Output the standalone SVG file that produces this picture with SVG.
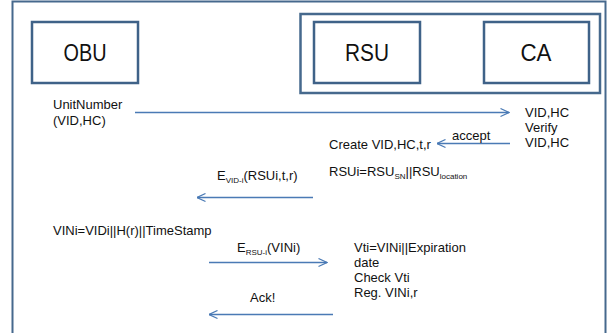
<svg xmlns="http://www.w3.org/2000/svg" width="607" height="333" viewBox="0 0 607 333">
<style>
.frame{fill:none;stroke:#46698d;stroke-width:2}
.box{fill:#fff;stroke:#3f6288;stroke-width:2.5}
.lbl{font-family:"Liberation Sans",Arial,sans-serif;font-size:24px;fill:#111;text-anchor:middle}
.t{font-family:"Liberation Sans",Arial,sans-serif;font-size:13px;fill:#111}
.sub{font-size:8px}
.arr{fill:none;stroke:#4a7ab5;stroke-width:1.3;marker-end:url(#ah)}
</style>
<defs>
<marker id="ah" viewBox="0 0 10 10" refX="9.5" refY="5" markerWidth="10" markerHeight="10" markerUnits="userSpaceOnUse" orient="auto">
<path d="M1,1 L9.5,5 L1,9" fill="none" stroke="#4a7ab5" stroke-width="1.2"/>
</marker>
</defs>
<rect x="0" y="0" width="607" height="333" fill="#fff"/>
<rect class="frame" x="12.5" y="1.5" width="593" height="345"/>
<g id="obu">
<rect class="box" x="32" y="22" width="106" height="61"/>
<text class="lbl" x="85" y="61" textLength="43" lengthAdjust="spacingAndGlyphs">OBU</text>
</g>
<g id="rsu-ca-group">
<rect class="frame" x="300.5" y="14" width="299.5" height="79" style="stroke-width:2.5"/>
</g>
<g id="rsu">
<rect class="box" x="314" y="22" width="106" height="61"/>
<text class="lbl" x="367" y="61" textLength="44" lengthAdjust="spacingAndGlyphs">RSU</text>
</g>
<g id="ca">
<rect class="box" x="484" y="22" width="105" height="61"/>
<text class="lbl" x="536" y="61" textLength="31" lengthAdjust="spacingAndGlyphs">CA</text>
</g>
<g id="connectors">
<line class="arr" x1="135" y1="112.5" x2="509" y2="112.5"/>
<line class="arr" x1="510" y1="143.5" x2="437" y2="143.5"/>
<line class="arr" x1="313" y1="197.5" x2="197" y2="197.5"/>
<line class="arr" x1="209" y1="262.5" x2="327" y2="262.5"/>
<line class="arr" x1="333" y1="314.5" x2="209" y2="314.5"/>
</g>
<g id="labels">
<text class="t" x="53" y="109">UnitNumber</text>
<text class="t" x="53" y="125">(VID,HC)</text>
<text class="t" x="525" y="117">VID,HC</text>
<text class="t" x="525" y="132">Verify</text>
<text class="t" x="525" y="147">VID,HC</text>
<text class="t" x="452" y="140">accept</text>
<text class="t" x="329" y="149">Create VID,HC,t,r</text>
<text class="t" x="329" y="176">RSUi=RSU<tspan class="sub" dy="3">SN</tspan><tspan dy="-3">||RSU</tspan><tspan class="sub" dy="3">location</tspan></text>
<text class="t" x="217" y="180">E<tspan class="sub" dy="3">VID-i</tspan><tspan dy="-3">(RSUi,t,r)</tspan></text>
<text class="t" x="53" y="235">VINi=VIDi||H(r)||TimeStamp</text>
<text class="t" x="237" y="252">E<tspan class="sub" dy="3">RSU-i</tspan><tspan dy="-3">(VINi)</tspan></text>
<text class="t" x="354" y="252">Vti=VINi||Expiration</text>
<text class="t" x="354" y="267">date</text>
<text class="t" x="354" y="282">Check Vti</text>
<text class="t" x="354" y="297">Reg. VINi,r</text>
<text class="t" x="250" y="302">Ack!</text>
</g>
</svg>
